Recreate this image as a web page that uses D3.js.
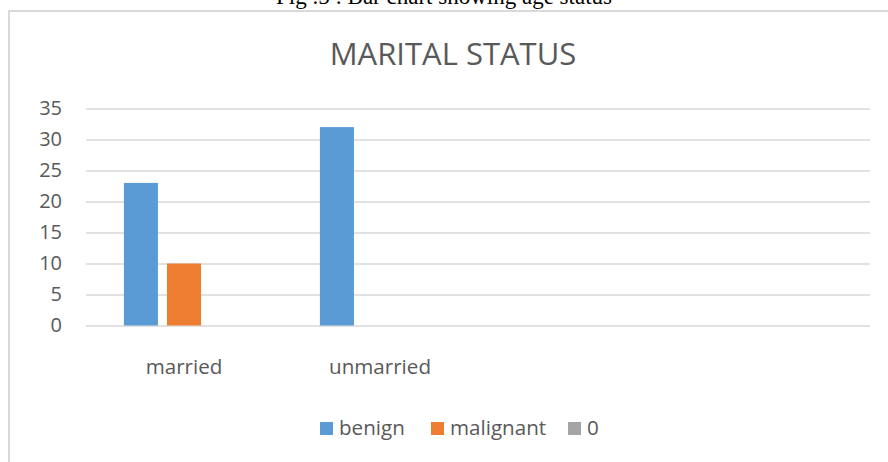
<!DOCTYPE html>
<html>
<head>
<meta charset="utf-8">
<script src="https://cdn.jsdelivr.net/npm/d3@7"></script>
<style>
  html, body { margin: 0; padding: 0; background: #fff; }
  svg { display: block; }
</style>
</head>
<body>
<svg id="chart" width="888" height="462"></svg>
<script>
// ---- data ----
const caption = "Fig .5 : Bar chart showing age status";
const title = "MARITAL STATUS";
const categories = ["married", "unmarried", "", ""];
const seriesNames = ["benign", "malignant", "0"];
const benign = [23, 32, 0, 0];
const malignant = [10, 0, 0, 0];
const zeroSeries = [0, 0, 0, 0];
const yTicks = [0, 5, 10, 15, 20, 25, 30, 35];
const colors = ["#5b9bd5", "#ed7d31", "#a5a5a5"];

const seriesValues = [benign, malignant, zeroSeries];

const svg = d3.select("#chart");
const font = "'Open Sans', 'Segoe UI', sans-serif";
const textColor = "#595959";

// caption (cut off at top)
svg.append("text")
  .attr("x", 444).attr("y", 4)
  .attr("text-anchor", "middle")
  .attr("font-family", "'Liberation Serif', 'Times New Roman', serif")
  .attr("font-size", 23)
  .attr("fill", "#000")
  .text(caption);

// chart area frame (only top and left visible)
svg.append("path")
  .attr("d", "M9,470 L9,11 L900,11")
  .attr("fill", "none")
  .attr("stroke", "#d9d9d9")
  .attr("stroke-width", 2);

// title
svg.append("text")
  .attr("x", 453).attr("y", 65)
  .attr("text-anchor", "middle")
  .attr("font-family", font)
  .attr("font-size", 31)
  .attr("fill", textColor)
  .text(title);

// scales
const plotLeft = 86, plotRight = 870, plotTop = 108.5, plotBottom = 325.5;
const x0 = d3.scaleBand()
  .domain(d3.range(categories.length))
  .range([plotLeft, plotRight])
  .paddingInner(0).paddingOuter(0);
const x1 = d3.scaleBand()
  .domain(d3.range(seriesNames.length))
  .range([0, x0.bandwidth()])
  .paddingInner(0.21).paddingOuter(0.88);
const y = d3.scaleLinear().domain([0, 35]).range([plotBottom, plotTop]);

// gridlines
const yAxis = d3.axisLeft(y).tickValues(yTicks)
  .tickSize(-(plotRight - plotLeft)).tickPadding(24).tickFormat(d3.format("d"));
const gy = svg.append("g").attr("transform", `translate(${plotLeft},0)`).call(yAxis);
gy.select(".domain").remove();
gy.selectAll(".tick line").attr("stroke", "#d9d9d9").attr("stroke-width", 1.5);
gy.selectAll(".tick text")
  .attr("font-family", font).attr("font-size", 20).attr("fill", textColor);

// bars
const groups = svg.append("g").selectAll("g")
  .data(categories.map((c, i) => i))
  .join("g")
  .attr("transform", i => `translate(${x0(i)},0)`);
groups.selectAll("rect")
  .data(i => seriesValues.map((vals, s) => ({ s, v: vals[i] })))
  .join("rect")
  .attr("x", d => x1(d.s))
  .attr("width", x1.bandwidth())
  .attr("y", d => y(d.v))
  .attr("height", d => y(0) - y(d.v))
  .attr("fill", d => colors[d.s]);

// category axis labels
const xAxis = d3.axisBottom(x0).tickSize(0).tickPadding(0)
  .tickFormat(i => categories[i]);
const gx = svg.append("g").attr("transform", `translate(0,${plotBottom})`).call(xAxis);
gx.select(".domain").remove();
gx.selectAll(".tick text")
  .attr("y", 48).attr("dy", 0)
  .attr("font-family", font).attr("font-size", 20.6).attr("fill", textColor);

// legend
const legendX = [320, 431, 568];
const leg = svg.append("g").selectAll("g")
  .data(seriesNames.map((n, i) => i))
  .join("g")
  .attr("transform", i => `translate(${legendX[i]},422)`);
leg.append("rect").attr("width", 13).attr("height", 13).attr("fill", i => colors[i]);
leg.append("text")
  .attr("x", 19).attr("y", 13)
  .attr("font-family", font).attr("font-size", 20.6).attr("fill", textColor)
  .text(i => seriesNames[i]);
</script>
</body>
</html>
